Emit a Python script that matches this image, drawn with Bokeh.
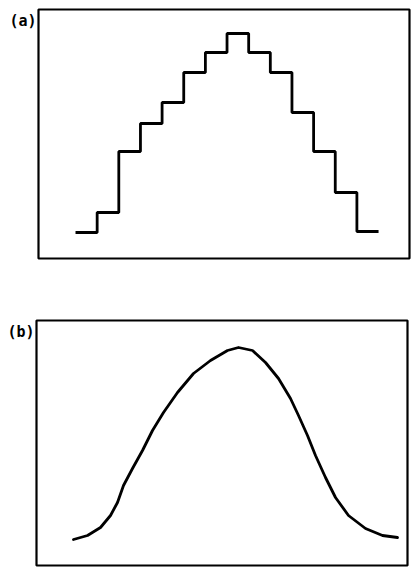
from bokeh.plotting import figure
from bokeh.layouts import column
from bokeh.models import Range1d
from bokeh.core.properties import value
from bokeh.embed import file_html
from bokeh.resources import INLINE

# (a) histogram: bin edges and bin heights
bin_edges = list(range(15))
bin_heights = [26, 46, 107, 135, 156, 186, 206, 225, 206, 186, 146, 107, 66, 27]

# (b) smooth distribution curve
curve_x = [37, 51, 64, 74, 81, 87, 96, 106, 116, 127, 141, 157, 174, 191, 202,
           216, 229, 242, 254, 262, 271, 279, 289, 299, 312, 329, 346, 361]
curve_y = [26, 30, 38, 50, 63, 80, 97, 115, 135, 153, 173, 192, 205, 215, 218,
           215, 203, 187, 167, 150, 130, 110, 88, 68, 50, 37, 30, 28]

panel_labels = ["(a)", "(b)"]

WIDTH = 412


def make_panel(height, box, pad):
    """Figure whose canvas is all plot area; the framed box is drawn as a glyph.

    box = (x0, x1, y0, y1) in data units, pad = (left, right, top, bottom) in px.
    """
    x0, x1, y0, y1 = box
    left, right, top, bottom = pad
    ux = (x1 - x0) / (WIDTH - left - right)
    uy = (y1 - y0) / (height - top - bottom)
    p = figure(width=WIDTH, height=height, output_backend="svg",
               toolbar_location=None, x_axis_location=None,
               y_axis_location=None,
               x_range=Range1d(x0 - left * ux, x1 + right * ux),
               y_range=Range1d(y0 - bottom * uy, y1 + top * uy),
               min_border=0)
    p.grid.visible = False
    p.outline_line_color = None
    p.background_fill_color = "white"
    p.border_fill_color = "white"
    p.quad(left=[x0], right=[x1], bottom=[y0], top=[y1], fill_color=None,
           line_color="black", line_width=2.2)
    return p


def add_label(p, box, text):
    p.text(x=[box[0]], y=[box[3]], text=[text], x_offset=-2, y_offset=2,
           text_align="right", text_baseline="top",
           text_font=value("DejaVu Sans Mono"), text_font_style="bold",
           text_font_size="15px", text_color="black")


# panel (a): step histogram
box_a = (-1.71, 15.43, 0, 249)
pa = make_panel(290, box_a, (38, 3, 9, 32))
pa.step(x=bin_edges, y=bin_heights + [bin_heights[-1]], mode="after",
        line_color="black", line_width=2.8)
add_label(pa, box_a, panel_labels[0])

# panel (b): smooth curve
box_b = (0, 371, 0, 245)
pb = make_panel(278, box_b, (36, 5, 30, 3))
pb.line(x=curve_x, y=curve_y, line_color="black", line_width=2.8,
        line_join="round", line_cap="round")
add_label(pb, box_b, panel_labels[1])

layout = column(pa, pb, spacing=0)
open("out.html", "w").write(file_html(layout, INLINE))
